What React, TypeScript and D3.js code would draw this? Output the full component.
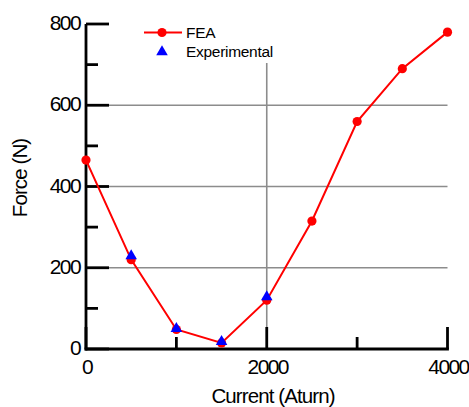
import React from "react";
import * as d3 from "d3";

const currentFEA = [0, 500, 1000, 1500, 2000, 2500, 3000, 3500, 4000];
const forceFEA = [465, 220, 48, 15, 120, 315, 560, 690, 780];
const currentExp = [500, 1000, 1500, 2000];
const forceExp = [229, 50, 18, 128];
const yMajorTicks = [0, 200, 400, 600, 800];
const yMinorTicks = [100, 300, 500, 700];
const xMajorTicks = [0, 2000, 4000];
const xMinorTicks = [1000, 3000];
const yGrid = [200, 400, 600];
const xGrid = [2000];

const W = 469;
const H = 407;
const FONT = "'Liberation Sans', Arial, sans-serif";

export default function App() {
  const x = d3.scaleLinear().domain([0, 4000]).range([86, 447.5]);
  const y = d3.scaleLinear().domain([0, 800]).range([349, 24]);
  const fea = currentFEA.map((c, i) => [c, forceFEA[i]] as [number, number]);
  const exp = currentExp.map((c, i) => [c, forceExp[i]] as [number, number]);
  const line = d3
    .line<[number, number]>()
    .x((d) => x(d[0]))
    .y((d) => y(d[1]));
  const tri = d3.symbol().type(d3.symbolTriangle).size(58)() as string;

  return (
    <svg
      width={W}
      height={H}
      style={{ position: "absolute", left: 0, top: 0, background: "#fff" }}
      fontFamily={FONT}
    >
      <rect x={0} y={0} width={W} height={H} fill="#fff" />
      {/* grid */}
      {yGrid.map((v) => (
        <line key={"gy" + v} x1={x(0)} x2={x(4000)} y1={y(v)} y2={y(v)} stroke="#8c8c8c" strokeWidth={1.6} />
      ))}
      {xGrid.map((v) => (
        <line key={"gx" + v} x1={x(v)} x2={x(v)} y1={y(800)} y2={y(0)} stroke="#8c8c8c" strokeWidth={1.6} />
      ))}
      {/* legend background */}
      <rect x={135} y={18} width={150} height={45} fill="#fff" />
      {/* axes */}
      <line x1={x(0)} x2={x(0)} y1={y(800)} y2={y(0) + 1.4} stroke="#000" strokeWidth={2.8} />
      <line x1={x(0) - 1.4} x2={x(4000) + 1.4} y1={y(0)} y2={y(0)} stroke="#000" strokeWidth={2.8} />
      {yMajorTicks.map((v) => (
        <line key={"ym" + v} x1={x(0)} x2={x(0) + 23} y1={y(v)} y2={y(v)} stroke="#000" strokeWidth={2.8} />
      ))}
      {yMinorTicks.map((v) => (
        <line key={"yn" + v} x1={x(0)} x2={x(0) + 12} y1={y(v)} y2={y(v)} stroke="#000" strokeWidth={2.8} />
      ))}
      {xMajorTicks.map((v) => (
        <line key={"xm" + v} x1={x(v)} x2={x(v)} y1={y(0)} y2={y(0) - 22} stroke="#000" strokeWidth={2.8} />
      ))}
      {xMinorTicks.map((v) => (
        <line key={"xn" + v} x1={x(v)} x2={x(v)} y1={y(0)} y2={y(0) - 12} stroke="#000" strokeWidth={2.8} />
      ))}
      {/* tick labels */}
      {yMajorTicks.map((v) => (
        <text key={"yl" + v} x={x(0) - 6} y={y(v) + 6} textAnchor="end" fontSize={21} letterSpacing={-1.6} fill="#000">
          {v}
        </text>
      ))}
      {xMajorTicks.map((v) => (
        <text key={"xl" + v} x={x(v) + 1} y={374} textAnchor="middle" fontSize={21} letterSpacing={-1.6} fill="#000">
          {v}
        </text>
      ))}
      {/* axis titles */}
      <text x={273} y={402.5} textAnchor="middle" fontSize={20.5} letterSpacing={-0.9} fill="#000">
        Current (Aturn)
      </text>
      <text
        transform="translate(27,178) rotate(-90)"
        textAnchor="middle"
        fontSize={20.5}
        letterSpacing={-0.9}
        fill="#000"
      >
        Force (N)
      </text>
      {/* series */}
      <path d={line(fea) || ""} fill="none" stroke="#ff0000" strokeWidth={2} />
      {fea.map((d, i) => (
        <circle key={"c" + i} cx={x(d[0])} cy={y(d[1])} r={4.6} fill="#ff0000" />
      ))}
      {exp.map((d, i) => (
        <path key={"t" + i} d={tri} transform={`translate(${x(d[0])},${y(d[1])})`} fill="#0000ff" />
      ))}
      {/* legend */}
      <line x1={144} x2={182} y1={32.5} y2={32.5} stroke="#ff0000" strokeWidth={2} />
      <circle cx={162} cy={32.5} r={4.6} fill="#ff0000" />
      <path d={tri} transform="translate(162,52)" fill="#0000ff" />
      <text x={186} y={38} fontSize={15.5} letterSpacing={-0.3} fill="#000">
        FEA
      </text>
      <text x={186} y={57} fontSize={15.5} letterSpacing={-0.3} fill="#000">
        Experimental
      </text>
    </svg>
  );
}
